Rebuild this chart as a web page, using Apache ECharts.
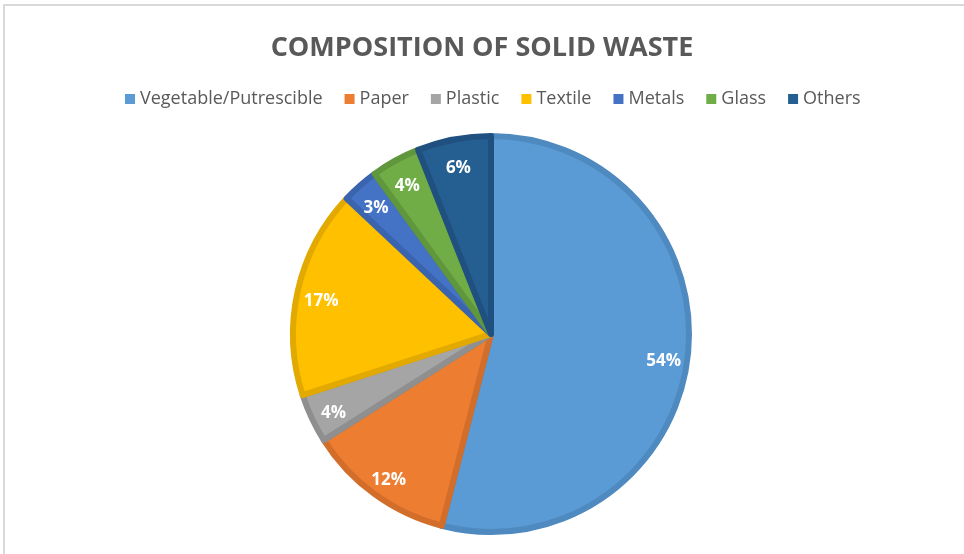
<!DOCTYPE html>
<html>
<head>
<meta charset="utf-8">
<script src="https://cdn.jsdelivr.net/npm/echarts@6/dist/echarts.min.js"></script>
<style>
  html, body { margin: 0; padding: 0; background: #fff; }
  #frame { position: absolute; left: 3px; top: 4px; width: 980px; height: 570px;
           border-top: 2px solid #D9D9D9; border-left: 2px solid #D9D9D9; }
  #chart { position: absolute; left: 0; top: 0; width: 964px; height: 554px; }
</style>
</head>
<body>
<div id="frame"></div>
<div id="chart"></div>
<script>
// Waste categories and their shares (%)
const categories = ['Vegetable/Putrescible', 'Paper', 'Plastic', 'Textile', 'Metals', 'Glass', 'Others'];
const shares = [54, 12, 4, 17, 3, 4, 6];

// Slice fills and their darker outlines
const fills = ['#5B9BD5', '#ED7D31', '#A5A5A5', '#FFC000', '#4472C4', '#70AD47', '#255E91'];
const outlines = ['#4E89BF', '#D26D2A', '#8F8F8F', '#E2AA00', '#3B64AE', '#60963C', '#1F5080'];

const R = 198;

const sliceData = categories.map((name, i) => ({
  name: name,
  value: shares[i],
  itemStyle: { color: fills[i], borderColor: outlines[i], borderWidth: 6 }
}));

// Transparent ring used only to place the percentage labels near the rim
const labelData = categories.map((name, i) => ({ name: name, value: shares[i] }));

const chart = echarts.init(document.getElementById('chart'), null, { renderer: 'canvas' });
chart.setOption({
  backgroundColor: 'transparent',
  animation: false,
  color: fills,
  title: {
    text: 'COMPOSITION OF SOLID WASTE',
    left: 'center',
    top: 30,
    textStyle: { fontFamily: 'Open Sans', fontWeight: 'bold', fontSize: 27, color: '#595959' }
  },
  legend: {
    data: categories,
    top: 90,
    left: 125,
    padding: 0,
    icon: 'rect',
    itemWidth: 10,
    itemHeight: 10,
    itemGap: 22,
    itemStyle: { borderWidth: 0 },
    textStyle: { fontFamily: 'Open Sans', fontSize: 18, color: '#595959' }
  },
  series: [
    {
      type: 'pie',
      center: [491, 334],
      radius: [0, R],
      startAngle: 90,
      clockwise: true,
      silent: true,
      label: { show: false },
      labelLine: { show: false },
      data: sliceData
    },
    {
      type: 'pie',
      center: [491, 334],
      radius: [144, R],
      startAngle: 90,
      clockwise: true,
      silent: true,
      itemStyle: { color: 'transparent', borderWidth: 0 },
      label: {
        show: true,
        position: 'inside',
        formatter: p => p.value + '%',
        fontFamily: 'Open Sans',
        fontWeight: 'bold',
        fontSize: 17,
        color: '#FFFFFF',
        offset: [0, 5]
      },
      labelLine: { show: false },
      data: labelData
    }
  ]
});
</script>
</body>
</html>
